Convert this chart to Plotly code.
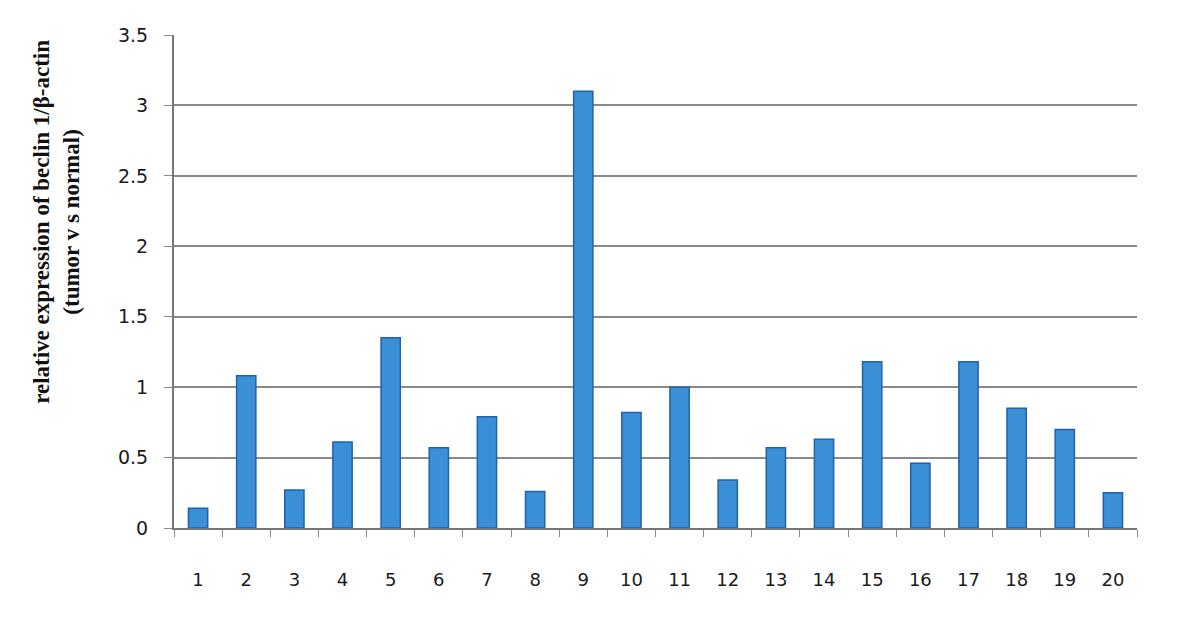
import plotly.graph_objects as go

# Sample numbers and measured relative expression
samples = [str(i) for i in range(1, 21)]
expression = [0.14, 1.08, 0.27, 0.61, 1.35, 0.57, 0.79, 0.26, 3.10, 0.82,
              1.00, 0.34, 0.57, 0.63, 1.18, 0.46, 1.18, 0.85, 0.70, 0.25]
y_ticks = [0, 0.5, 1, 1.5, 2, 2.5, 3, 3.5]
y_tick_text = ["0", "0.5", "1", "1.5", "2", "2.5", "3", "3.5"]

bar_fill = "#3a8fd6"
bar_edge = "#2262ac"
grid_col = "#8a8a8a"

fig = go.Figure()

fig.add_trace(
    go.Bar(
        x=samples,
        y=expression,
        width=0.4,
        marker=dict(color=bar_fill, line=dict(color=bar_edge, width=1.5)),
        showlegend=False,
    )
)

fig.update_layout(
    width=1200,
    height=644,
    margin=dict(l=166, r=71, t=27, b=124),
    paper_bgcolor="white",
    plot_bgcolor="white",
    font=dict(family="DejaVu Sans", size=18, color="#1a1a1a"),
    annotations=[
        dict(
            text="<b>relative expression of beclin 1/β-actin<br>(tumor v s normal)</b>",
            xref="paper", yref="paper",
            x=-0.122, y=0.62,
            xanchor="center", yanchor="middle",
            textangle=-90,
            showarrow=False,
            font=dict(family="Liberation Serif", size=23, color="#111111"),
        )
    ],
)

fig.update_xaxes(
    type="category",
    tickson="boundaries",
    ticks="outside",
    ticklen=7,
    tickcolor=grid_col,
    showline=True,
    linecolor="#777777",
    linewidth=2,
    showgrid=False,
    tickfont=dict(family="DejaVu Sans", size=18, color="#1a1a1a"),
    ticklabelstandoff=34,
)

fig.update_yaxes(
    range=[0, 3.5],
    tickvals=y_ticks,
    ticktext=y_tick_text,
    ticks="outside",
    ticklen=8,
    tickcolor=grid_col,
    showline=True,
    linecolor="#777777",
    linewidth=2,
    showgrid=True,
    gridcolor=grid_col,
    gridwidth=1.5,
    zeroline=False,
    tickfont=dict(family="DejaVu Sans", size=19, color="#1a1a1a"),
    ticklabelstandoff=12,
)

fig.write_html("out.html")
